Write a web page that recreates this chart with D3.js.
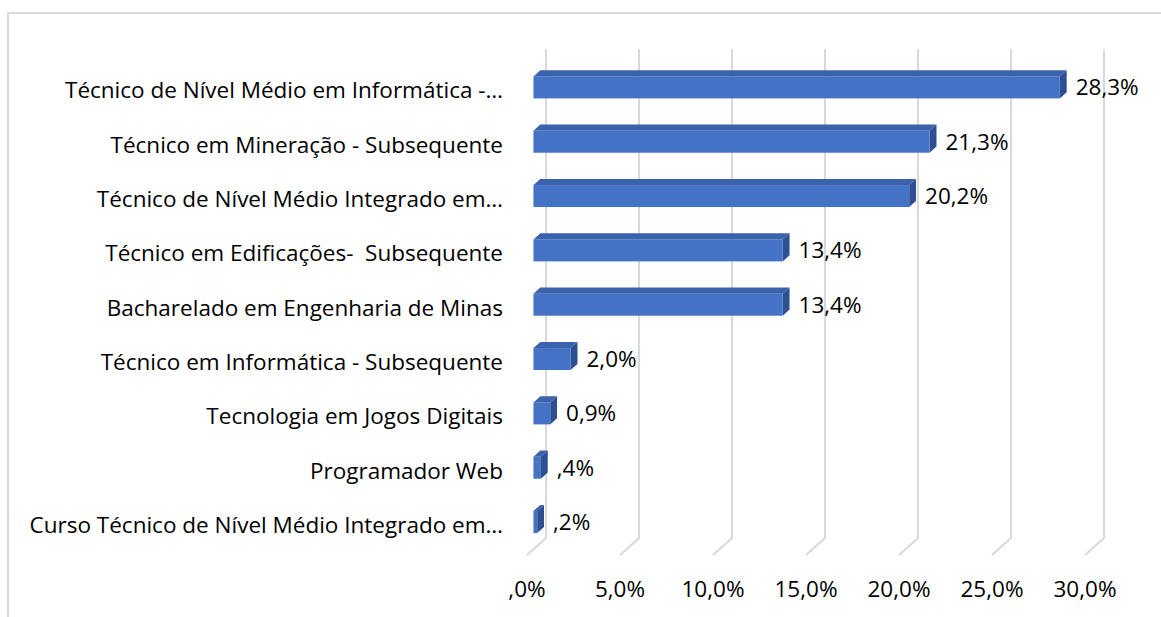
<!DOCTYPE html>
<html>
<head>
<meta charset="utf-8">
<script src="https://cdn.jsdelivr.net/npm/d3@7"></script>
<style>
  body { margin: 0; background: #fff; }
  text { font-family: "Open Sans", Lato, sans-serif; fill: #000; white-space: pre; }
</style>
</head>
<body>
<svg width="1161" height="617"></svg>
<script>
const categories = [
  'Técnico de Nível Médio em Informática -…',
  'Técnico em Mineração - Subsequente',
  'Técnico de Nível Médio Integrado em…',
  'Técnico em Edificações-  Subsequente',
  'Bacharelado em Engenharia de Minas',
  'Técnico em Informática - Subsequente',
  'Tecnologia em Jogos Digitais',
  'Programador Web',
  'Curso Técnico de Nível Médio Integrado em…'
];
const values = [28.3, 21.3, 20.2, 13.4, 13.4, 2.0, 0.9, 0.4, 0.2];
const valueLabels = ['28,3%', '21,3%', '20,2%', '13,4%', '13,4%', '2,0%', '0,9%', ',4%', ',2%'];
const ticks = [0, 5, 10, 15, 20, 25, 30];
const tickLabels = [',0%', '5,0%', '10,0%', '15,0%', '20,0%', '25,0%', '30,0%'];

const svg = d3.select('svg');

// back wall of the 3d plot
const x = d3.scaleLinear().domain([0, 30]).range([546, 1104]);
const y = d3.scaleBand().domain(categories).range([49, 538]);

// full floor depth, bar front and back offsets
const depth = { dx: -19, dy: 17 };
const front = { dx: depth.dx * 0.66, dy: depth.dy * 0.66 };
const back = { dx: depth.dx * 0.3, dy: depth.dy * 0.3 };
const barH = 22;
const fs = 22.5;

// chart border
svg.append('rect')
    .attr('x', 8).attr('y', 13)
    .attr('width', 1200).attr('height', 700)
    .attr('fill', 'none')
    .attr('stroke', '#d9d9d9')
    .attr('stroke-width', 2);

// gridlines on the back wall, folding down onto the floor
svg.append('g').selectAll('path').data(ticks)
  .enter().append('path')
    .attr('d', d => `M${x(d)},${y.range()[0]}V${y.range()[1]}l${depth.dx},${depth.dy}`)
    .attr('fill', 'none')
    .attr('stroke', '#d9d9d9')
    .attr('stroke-width', 2);

const bars = svg.append('g').selectAll('g').data(categories)
  .enter().append('g');

const x0 = x(0) + front.dx;
const tx = back.dx - front.dx;
const ty = back.dy - front.dy;
const yTop = d => y(d) + y.bandwidth() / 2 + front.dy - barH / 2;
const x1 = (d, i) => x(values[i]) + front.dx;

// top face
bars.append('path')
    .attr('d', (d, i) => `M${x0},${yTop(d)}l${tx},${ty}H${x1(d, i) + tx}L${x1(d, i)},${yTop(d)}Z`)
    .attr('fill', '#3a62ad');

// right face
bars.append('path')
    .attr('d', (d, i) => `M${x1(d, i)},${yTop(d)}l${tx},${ty}v${barH}l${-tx},${-ty}Z`)
    .attr('fill', '#2f5090');

// front face
bars.append('rect')
    .attr('x', x0)
    .attr('y', d => yTop(d))
    .attr('width', (d, i) => x1(d, i) - x0)
    .attr('height', barH)
    .attr('fill', '#4472c4');

// value labels
bars.append('text')
    .attr('x', (d, i) => x1(d, i) + tx + 9)
    .attr('y', d => yTop(d) + barH / 2)
    .attr('dy', '0.35em')
    .attr('font-size', fs)
    .text((d, i) => valueLabels[i]);

// category labels
bars.append('text')
    .attr('x', 503)
    .attr('y', d => yTop(d) + barH / 2 + 3)
    .attr('dy', '0.35em')
    .attr('text-anchor', 'end')
    .attr('font-size', fs)
    .text(d => d);

// x axis labels under the floor front edge
svg.append('g').selectAll('text').data(ticks)
  .enter().append('text')
    .attr('x', d => x(d) + depth.dx)
    .attr('y', 597)
    .attr('text-anchor', 'middle')
    .attr('font-size', fs)
    .text((d, i) => tickLabels[i]);
</script>
</body>
</html>
